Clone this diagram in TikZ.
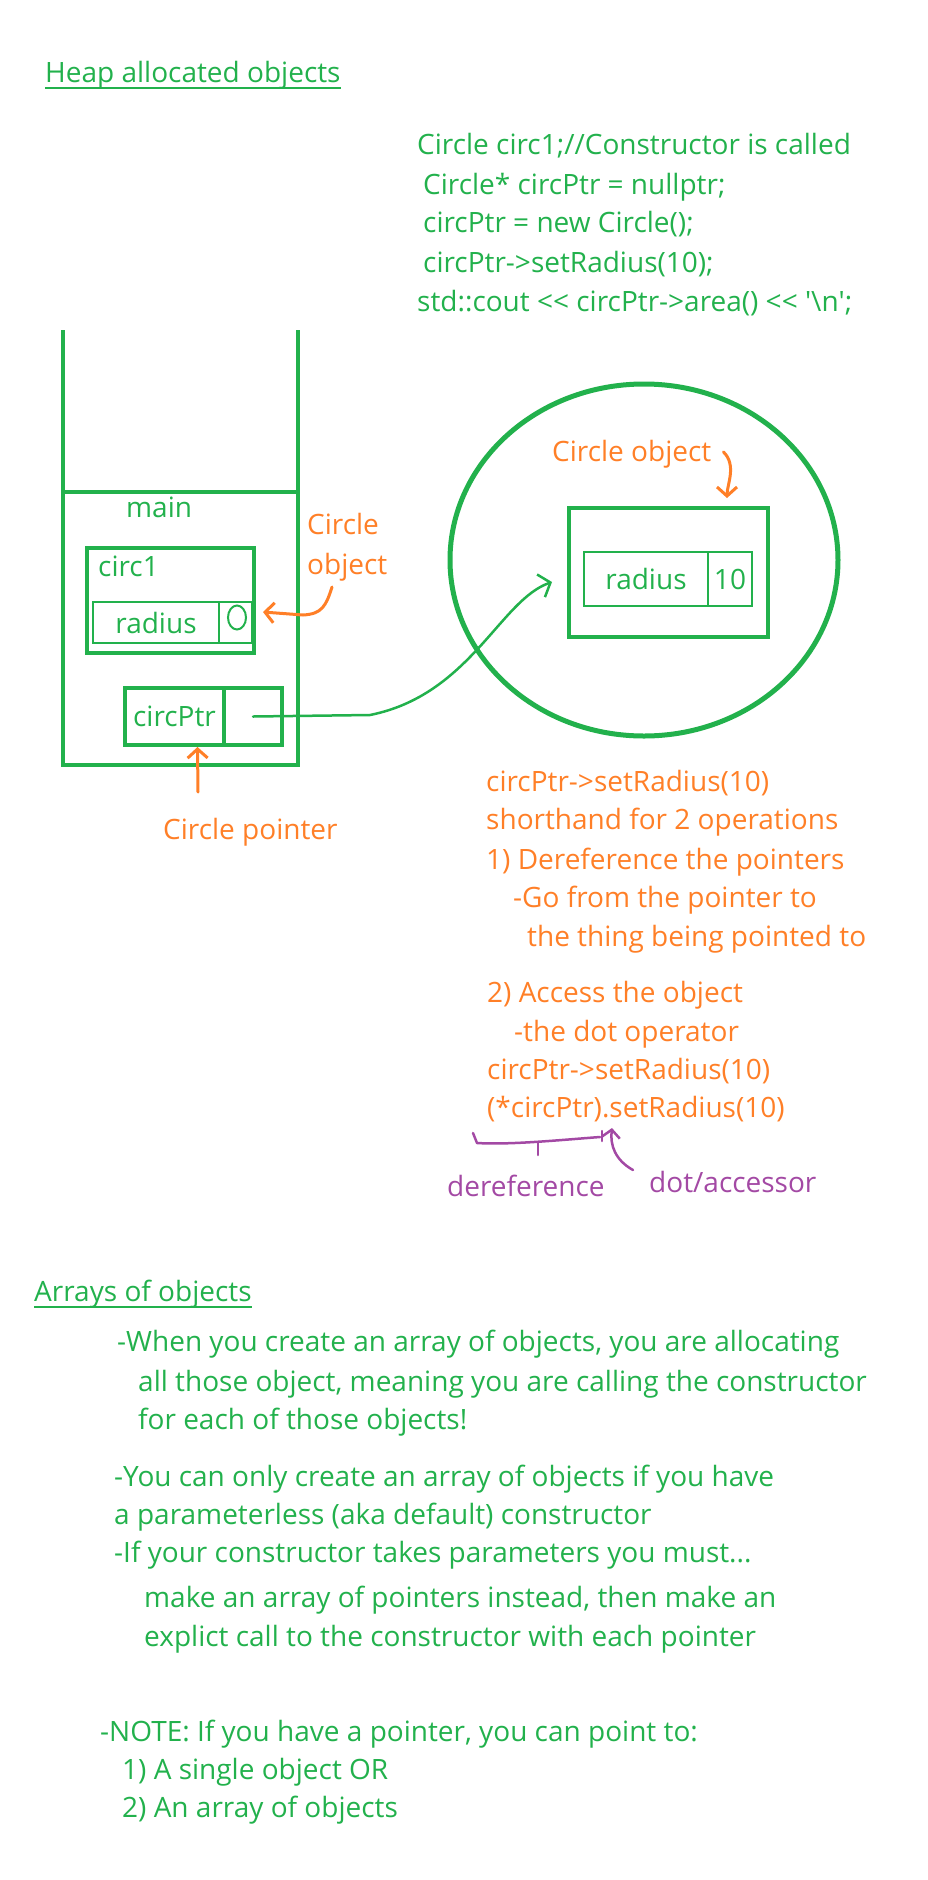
\documentclass[tikz,border=0pt]{standalone}
\usepackage{fontspec}
\setmainfont{Open Sans}
\usepackage{tikz}
\usetikzlibrary{arrows.meta}
\usetikzlibrary{shapes.geometric, positioning}
\definecolor{pgreen}{RGB}{34,177,76}
\definecolor{porange}{RGB}{255,127,39}
\definecolor{ppurple}{RGB}{163,73,164}
\newcommand{\notesize}{\fontsize{28}{39}\selectfont}
\tikzset{
  gtext/.style={text=pgreen, font=\notesize, anchor=base west, inner sep=0pt},
  otext/.style={text=porange, font=\notesize, anchor=base west, inner sep=0pt},
  ptext/.style={text=ppurple, font=\notesize, anchor=base west, inner sep=0pt},
  boxline/.style={draw=pgreen, line width=4pt, text=pgreen, font=\notesize, inner sep=0pt},
  cell/.style={draw=pgreen, line width=1.3pt, text=pgreen, font=\notesize, inner sep=0pt},
  orangeink/.style={draw=porange, line width=3pt, line cap=round, line join=round,
      -{Straight Barb[length=9pt, width=20pt]}},
  ptrink/.style={draw=pgreen, line width=2.5pt, line cap=round,
      -{Straight Barb[length=10pt, width=24pt]}},
  purpleink/.style={draw=ppurple, line width=2.5pt, line cap=round, line join=round},
}

\begin{document}
\begin{tikzpicture}[x=1pt, y=-1pt]
  \useasboundingbox (0,0) rectangle (928,1880);

  % heading and code
  \node[gtext] (heaphdr) at (45,82) {Heap allocated objects};
  \draw[pgreen, line width=2pt] ([yshift=-6pt]heaphdr.base west) -- ([yshift=-6pt]heaphdr.base east);

  \node[gtext] (code1) at (417,154) {Circle circ1;//Constructor is called};
  \node[gtext] (code2) at (423,194) {Circle* circPtr = nullptr;};
  \node[gtext] (code3) at (423,232) {circPtr = new Circle();};
  \node[gtext] (code4) at (423,272) {circPtr->setRadius(10);};
  \node[gtext] (code5) at (417,311) {std::cout <{}< circPtr->area() <{}< \textquotesingle\textbackslash n\textquotesingle;};

  % stack
  \draw[pgreen, line width=4pt] (63,330) -- (63,765) -- (298,765) -- (298,330);
  \draw[pgreen, line width=4pt] (63,492) -- (298,492);
  \node[gtext] (mainlbl) at (126,517) {main};

  \node[boxline, minimum width=167pt, minimum height=105pt] (circ1) at (170.5,600.5) {};
  \node[gtext] (circ1lbl) at (98,576) {circ1};
  \node[cell, minimum width=126pt, minimum height=41pt] (radname) at (156,622.5) {radius};
  \node[cell, minimum width=33pt, minimum height=41pt] (radval) at (235.5,622.5) {};
  \draw[pgreen, line width=2pt] ([xshift=1.5pt, yshift=5pt]radval.center) ellipse [x radius=9pt, y radius=12pt];

  \node[boxline, minimum width=99pt, minimum height=57pt] (ptrname) at (174.5,716.5) {circPtr};
  \node[boxline, minimum width=58pt, minimum height=57pt] (ptrval) at (253,716.5) {};

  % heap
  \node[ellipse, draw=pgreen, line width=5pt, minimum width=388pt, minimum height=352pt] (heap) at (644,560) {};
  \node[boxline, minimum width=199pt, minimum height=129pt] (objbox) at (668.5,572.5) {};
  \node[cell, minimum width=124pt, minimum height=54pt] (objname) at (646,579) {radius};
  \node[cell, minimum width=44pt, minimum height=54pt] (objval) at (730,579) {10};

  \coordinate (objin) at ([xshift=-15pt, yshift=-9.5pt]objbox.west);
  \draw[ptrink] (ptrval.center) -- (370,715) .. controls (470,695) and (500,600) .. (objin);

  % orange notes
  \node[otext] (circlbl1) at (307,534) {Circle};
  \node[otext] (circlbl2) at (307,574) {object};
  \coordinate (c1tail) at (332,587);
  \draw[orangeink] (c1tail) .. controls (326,606) and (322,614) .. (303,615) -- ([xshift=7pt, yshift=-11.5pt]circ1.east);

  \node[otext] (cplbl) at (163,839) {Circle pointer};
  \coordinate (cptail) at (198,792);
  \draw[orangeink] (cptail) -- ([xshift=23pt]ptrname.south);

  \node[otext] (objlbl) at (552,461) {Circle object};
  \draw[orangeink] ([xshift=12pt, yshift=9pt]objlbl.base east) .. controls (737,465) and (727,485) .. ([xshift=58.5pt, yshift=8pt]objbox.north);

  \node[otext] (note1) at (486,791) {circPtr->setRadius(10)};
  \node[otext] (note2) at (486,829) {shorthand for 2 operations};
  \node[otext] (note3) at (486,869) {1) Dereference the pointers};
  \node[otext] (note4) at (513,907) {-Go from the pointer to};
  \node[otext] (note5) at (527,946) {the thing being pointed to};
  \node[otext] (note6) at (487,1002) {2) Access the object};
  \node[otext] (note7) at (514,1041) {-the dot operator};
  \node[otext] (note8) at (487,1079) {circPtr->setRadius(10)};
  \node[otext] (note9) at (487,1117) {(*circPtr).setRadius(10)};

  % dereference / accessor marks
  \draw[purpleink] (473,1133) -- (477,1143) .. controls (510,1145) and (560,1140) .. (600,1137);
  \draw[purpleink] (602,1131) -- (602,1141);
  \draw[purpleink] (538,1143) -- (538,1155);
  \node[ptext] (dereflbl) at (447,1196) {dereference};
  \node[ptext] (dotlbl) at (649,1192) {dot/accessor};
  \coordinate (dottail) at (633,1170);
  \draw[purpleink, -{Straight Barb[length=8pt, width=18pt]}] (dottail) .. controls (615,1160) and (610,1145) .. (612,1128);

  % arrays of objects
  \node[gtext] (arrhdr) at (34,1301) {Arrays of objects};
  \draw[pgreen, line width=2pt] ([yshift=-6pt]arrhdr.base west) -- ([yshift=-6pt]arrhdr.base east);

  \node[gtext] (arr1) at (117,1351) {-When you create an array of objects, you are allocating};
  \node[gtext] (arr2) at (138,1391) {all those object, meaning you are calling the constructor};
  \node[gtext] (arr3) at (138,1429) {for each of those objects!};
  \node[gtext] (arr4) at (114,1486) {-You can only create an array of objects if you have};
  \node[gtext] (arr5) at (114,1524) {a parameterless (aka default) constructor};
  \node[gtext] (arr6) at (114,1562) {-If your constructor takes parameters you must...};
  \node[gtext] (arr7) at (144,1607) {make an array of pointers instead, then make an};
  \node[gtext] (arr8) at (144,1646) {explict call to the constructor with each pointer};

  \node[gtext] (note10) at (100,1741) {-NOTE: If you have a pointer, you can point to:};
  \node[gtext] (note11) at (122,1779) {1) A single object OR};
  \node[gtext] (note12) at (122,1817) {2) An array of objects};
\end{tikzpicture}
\end{document}
